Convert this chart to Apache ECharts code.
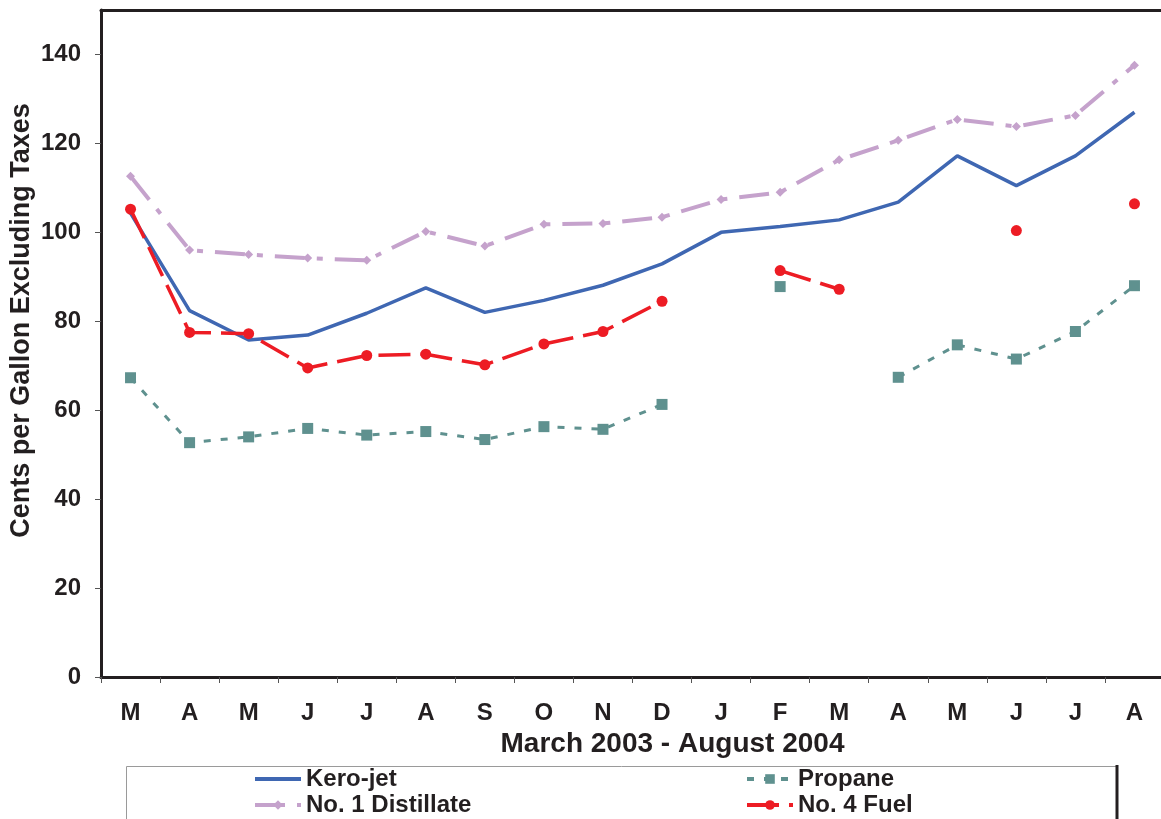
<!DOCTYPE html>
<html>
<head>
<meta charset="utf-8">
<script src="https://cdn.jsdelivr.net/npm/echarts@6/dist/echarts.min.js"></script>
<style>
html,body{margin:0;padding:0;background:#fff;}
#chart{width:1161px;height:819px;}
</style>
</head>
<body>
<div id="chart"></div>
<script>
var months = ['M','A','M','J','J','A','S','O','N','D','J','F','M','A','M','J','J','A'];
var yTicks = [0, 20, 40, 60, 80, 100, 120, 140];
var keroJet = [104.3, 82.4, 75.8, 76.9, 81.8, 87.5, 82.0, 84.7, 88.1, 92.9, 100.0, 101.3, 102.8, 106.8, 117.2, 110.5, 117.2, 127.0];
var propane = [67.3, 52.7, 54.0, 55.9, 54.4, 55.2, 53.4, 56.3, 55.7, 61.3, null, 87.8, null, 67.4, 74.7, 71.5, 77.7, 88.0];
var distillate1 = [112.6, 96.0, 95.0, 94.2, 93.7, 100.2, 96.9, 101.8, 102.0, 103.4, 107.4, 109.0, 116.3, 120.7, 125.4, 123.8, 126.3, 137.6];
var fuel4 = [105.2, 77.5, 77.2, 69.5, 72.3, 72.6, 70.2, 74.9, 77.7, 84.5, null, 91.4, 87.2, null, null, 100.4, null, 106.4];

var FONT = '"Liberation Sans", Arial, sans-serif';
var TXT = '#231f20';
var legendText = {fontFamily: FONT, fontWeight: 'bold', fontSize: 24, color: TXT};

var chart = echarts.init(document.getElementById('chart'), null, {renderer: 'canvas'});
chart.setOption({
  animation: false,
  backgroundColor: '#ffffff',
  grid: {left: 101, top: 10, right: -3, bottom: 142, containLabel: false, outerBoundsMode: 'none'},
  legend: [
    {
      orient: 'vertical', left: 253, top: 767, height: 54, padding: 0, itemGap: 2,
      itemWidth: 46, itemHeight: 12,
      lineStyle: {width: 4},
      data: [{name: 'Kero-jet', itemStyle: {opacity: 0}}, 'No. 1 Distillate'],
      textStyle: legendText
    },
    {
      orient: 'vertical', left: 745, top: 767, height: 54, padding: 0, itemGap: 2,
      itemWidth: 46, itemHeight: 12,
      lineStyle: {width: 4},
      data: ['Propane', 'No. 4 Fuel'],
      textStyle: legendText
    }
  ],
  graphic: [
    {type: 'rect', shape: {x: 126.5, y: 766.5, width: 990, height: 70}, style: {fill: 'none', stroke: '#9a9a9a', lineWidth: 1}, z: 0},
    {type: 'line', shape: {x1: 1117, y1: 765, x2: 1117, y2: 830}, style: {stroke: TXT, lineWidth: 3}, z: 1}
  ],
  xAxis: [
    {
      type: 'category',
      data: months,
      boundaryGap: true,
      name: 'March 2003 - August 2004',
      nameLocation: 'middle',
      nameGap: 53,
      nameMoveOverlap: false,
      nameTextStyle: {fontFamily: FONT, fontWeight: 'bold', fontSize: 28, color: TXT, padding: [0, 0, 0, 80]},
      axisLine: {lineStyle: {color: TXT, width: 3}},
      axisTick: {show: true, length: 6, lineStyle: {color: '#555', width: 1}},
      axisLabel: {margin: 24, fontFamily: FONT, fontWeight: 'bold', fontSize: 24, color: TXT, interval: 0},
      splitLine: {show: false}
    },
    {
      type: 'category',
      position: 'top',
      data: months,
      axisLine: {show: true, lineStyle: {color: TXT, width: 3}},
      axisTick: {show: false},
      axisLabel: {show: false},
      splitLine: {show: false}
    }
  ],
  yAxis: {
    type: 'value',
    min: 0, max: 150, interval: 20,
    name: 'Cents per Gallon Excluding Taxes',
    nameLocation: 'middle',
    nameGap: 66,
    nameMoveOverlap: false,
    nameTextStyle: {fontFamily: FONT, fontWeight: 'bold', fontSize: 27, color: TXT, padding: [0, 0, 0, 46]},
    axisLine: {show: true, lineStyle: {color: TXT, width: 3}},
    axisTick: {show: true, length: 6, lineStyle: {color: '#555', width: 1}, customValues: yTicks},
    axisLabel: {margin: 20, fontFamily: FONT, fontWeight: 'bold', fontSize: 24, color: TXT, customValues: yTicks},
    splitLine: {show: false}
  },
  series: [
    {
      name: 'Kero-jet', type: 'line', data: keroJet,
      symbol: 'none', color: '#3f67b2',
      lineStyle: {color: '#3f67b2', width: 3.5, type: 'solid'},
      z: 3
    },
    {
      name: 'Propane', type: 'line', data: propane,
      symbol: 'rect', symbolSize: 11, showAllSymbol: true, color: '#5f918f',
      itemStyle: {color: '#5f918f'},
      lineStyle: {color: '#5f918f', width: 3, type: [7, 10]},
      z: 3
    },
    {
      name: 'No. 1 Distillate', type: 'line', data: distillate1,
      symbol: 'diamond', symbolSize: 9, showAllSymbol: true, color: '#c5a2cc',
      itemStyle: {color: '#c5a2cc'},
      lineStyle: {color: '#c5a2cc', width: 4, type: [30, 12, 6, 12]},
      z: 2
    },
    {
      name: 'No. 4 Fuel', type: 'line', data: fuel4,
      symbol: 'circle', symbolSize: 11, showAllSymbol: true, color: '#ed1c24',
      itemStyle: {color: '#ed1c24'},
      lineStyle: {color: '#ed1c24', width: 3.5, type: [32, 10]},
      z: 4
    }
  ]
});
</script>
</body>
</html>
